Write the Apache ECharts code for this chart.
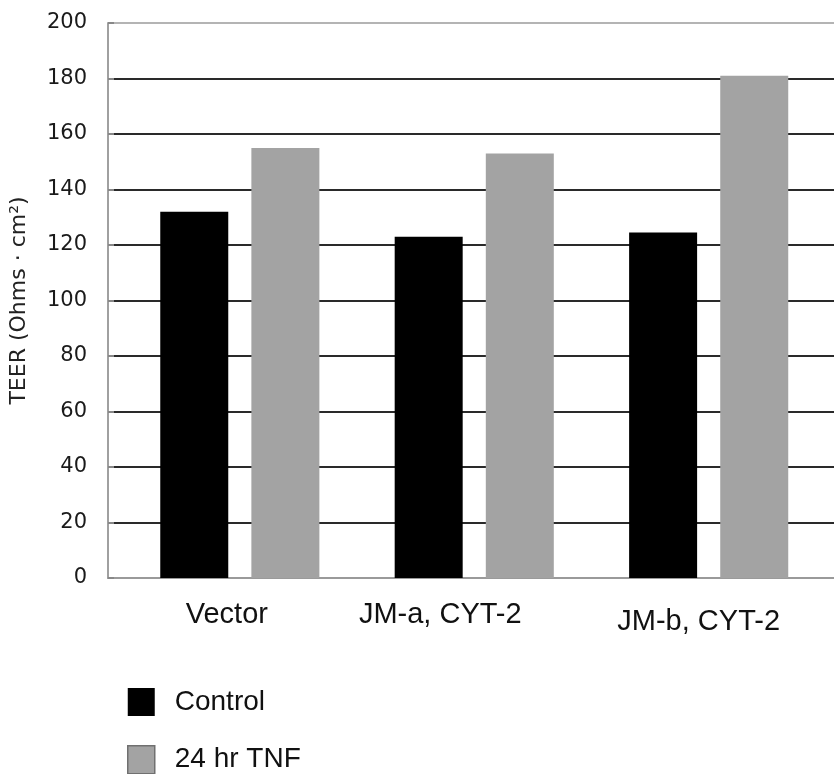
<!DOCTYPE html>
<html>
<head>
<meta charset="utf-8">
<script src="https://cdn.jsdelivr.net/npm/echarts@6/dist/echarts.min.js"></script>
<style>
html,body{margin:0;padding:0;background:#fff;}
#chart{width:834px;height:774px;}
</style>
</head>
<body>
<div id="chart"></div>
<script>
const categories = ['Vector', 'JM-a, CYT-2', 'JM-b, CYT-2'];
const controlValues = [132, 123, 124.5];
const tnfValues = [155, 153, 181];
const yTicks = [0, 20, 40, 60, 80, 100, 120, 140, 160, 180, 200];
const seriesNames = ['Control', '24 hr TNF'];

const chart = echarts.init(document.getElementById('chart'));

const toPairs = vals => vals.map((v, i) => [i, v]);
const labelKeys = ['a', 'b', 'c'];
const gridColors = yTicks.map((t, i) => i === 0 ? '#9a9a9a' : (i === yTicks.length - 1 ? '#b4b4b4' : '#2a2a2a'));

const option = {
  animation: false,
  backgroundColor: '#ffffff',
  grid: { left: 107, right: 0, top: 23, bottom: 196, containLabel: false },
  xAxis: {
    type: 'value',
    min: -0.5623,
    max: 2.5346,
    axisLine: { show: true, onZero: false, lineStyle: { color: '#9a9a9a', width: 2 } },
    axisTick: { show: false },
    splitLine: { show: false },
    axisLabel: {
      customValues: [0, 1, 2],
      margin: 22,
      formatter: v => '{' + labelKeys[Math.round(v)] + '|' + categories[Math.round(v)] + '}',
      rich: {
        a: { fontFamily: 'Liberation Sans', fontSize: 29, color: '#111', padding: [0, 26, 0, 0] },
        b: { fontFamily: 'Liberation Sans', fontSize: 29, color: '#111', padding: [0, 68, 0, 0] },
        c: { fontFamily: 'Liberation Sans', fontSize: 29, color: '#111', padding: [7, 20, 0, 0] }
      }
    }
  },
  yAxis: {
    type: 'value',
    min: 0,
    max: 200,
    interval: 20,
    name: 'TEER (Ohms · cm²)',
    nameLocation: 'middle',
    nameGap: 78,
    nameTextStyle: { fontFamily: 'DejaVu Sans', fontSize: 22, color: '#222' },
    axisLine: { show: true, onZero: false, lineStyle: { color: '#a0a0a0', width: 2 } },
    axisTick: { show: true, inside: true, length: 6, lineStyle: { color: '#888', width: 2 } },
    axisLabel: {
      margin: 21,
      fontFamily: 'DejaVu Sans',
      fontSize: 21,
      color: '#1a1a1a',
      formatter: v => String(v)
    },
    splitLine: { show: true, lineStyle: { color: gridColors, width: 2 } }
  },
  legend: {
    orient: 'vertical',
    left: 122,
    top: 683,
    height: 120,
    itemWidth: 27,
    itemHeight: 28,
    itemGap: 29,
    icon: 'rect',
    textStyle: { fontFamily: 'Liberation Sans', fontSize: 28, lineHeight: 28, color: '#111', padding: [0, 0, 0, 15] },
    data: [
      { name: seriesNames[0] },
      { name: seriesNames[1], itemStyle: { borderColor: '#707070', borderWidth: 1.5 } }
    ]
  },
  series: [
    {
      name: seriesNames[0],
      type: 'bar',
      data: toPairs(controlValues),
      barWidth: 68,
      barGap: '34%',
      itemStyle: { color: '#000000' }
    },
    {
      name: seriesNames[1],
      type: 'bar',
      data: toPairs(tnfValues),
      barWidth: 68,
      barGap: '34%',
      itemStyle: { color: '#a3a3a3' }
    }
  ]
};

chart.setOption(option);
</script>
</body>
</html>
